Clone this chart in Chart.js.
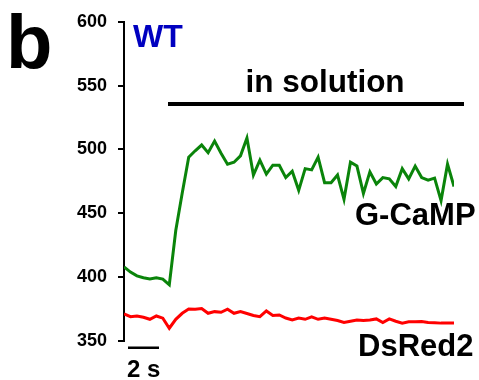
<!DOCTYPE html>
<html>
<head>
<meta charset="utf-8">
<script src="https://cdn.jsdelivr.net/npm/chart.js@4.4.1/dist/chart.umd.min.js"></script>
<style>
html,body{margin:0;padding:0;background:#fff;}
#wrap{width:479px;height:380px;}
</style>
</head>
<body>
<div id="wrap"><canvas id="c" width="479" height="380"></canvas></div>
<script>
// Time stamps (s)
const times = [0,0.4,0.8,1.2,1.6,2.0,2.4,2.8,3.2,3.6,4.0,4.4,4.8,5.2,5.6,6.0,6.4,6.8,7.2,7.6,8.0,8.4,8.8,9.2,9.6,10.0,10.4,10.8,11.2,11.6,12.0,12.4,12.8,13.2,13.6,14.0,14.4,14.8,15.2,15.6,16.0,16.4,16.8,17.2,17.6,18.0,18.4,18.8,19.2,19.6,20.0,20.4];
// G-CaMP fluorescence
const gcamp = [408,404,401,399.5,398.5,399.5,398.5,394,436.5,466,494,499,503.5,497.5,506.6,497,488.5,490,495,509,480,491.6,480.7,487.7,487.7,478,483,468,485,484,494,474,474,480,461,490,487,465.6,482.5,473,478,477,471,485,477,487,478,476,477.6,460,488.5,471];
// DsRed2 fluorescence
const dsred = [371.2,369,369.6,368.6,367,369.6,367.9,360,367,371.7,375,374.9,375.5,371.7,373,372.5,374.9,371.7,373,371.5,370,369,373.5,370,370.4,368,366.5,368,367,369,367,368,367,366,364.5,365.5,366.5,366,366.5,367.3,364.4,367.3,365.5,364,365,365,365.2,364.5,364.3,364,364,364];
const yTicks = [350,400,450,500,550,600];

const FONT = '"Liberation Sans", Arial, Helvetica, sans-serif';

const annot = {
  id: 'annot',
  afterDraw(chart) {
    const ctx = chart.ctx;
    ctx.save();
    ctx.fillStyle = '#000';
    ctx.textBaseline = 'alphabetic';
    ctx.textAlign = 'left';
    ctx.font = 'bold 76px ' + FONT;
    ctx.fillText('b', 6, 68);
    ctx.fillStyle = '#0000c0';
    ctx.font = 'bold 32px ' + FONT;
    ctx.fillText('WT', 133, 46.5);
    ctx.fillStyle = '#000';
    ctx.font = 'bold 31.5px ' + FONT;
    ctx.textAlign = 'center';
    ctx.fillText('in solution', 325, 91.5);
    ctx.fillRect(168, 102, 296, 4);
    ctx.font = 'bold 31px ' + FONT;
    ctx.textAlign = 'left';
    ctx.fillText('G-CaMP', 355, 224.5);
    ctx.fillText('DsRed2', 358, 355.5);
    ctx.fillRect(128, 346.5, 31, 2.5);
    ctx.font = 'bold 24px ' + FONT;
    ctx.fillText('2 s', 127, 377);
    ctx.restore();
  }
};

new Chart(document.getElementById('c'), {
  type: 'line',
  data: {
    datasets: [
      { label: 'G-CaMP', data: times.map((t, i) => ({x: t, y: gcamp[i]})), borderColor: '#0a840a', borderWidth: 3, pointRadius: 0, tension: 0, fill: false },
      { label: 'DsRed2', data: times.map((t, i) => ({x: t, y: dsred[i]})), borderColor: '#ff0000', borderWidth: 3, pointRadius: 0, tension: 0, fill: false }
    ]
  },
  options: {
    responsive: false,
    animation: false,
    devicePixelRatio: 1,
    layout: { padding: { left: 0, right: 25, top: 21, bottom: 39 } },
    plugins: { legend: { display: false }, tooltip: { enabled: false } },
    scales: {
      x: { type: 'linear', min: times[0], max: times[times.length - 1], display: false },
      y: {
        type: 'linear', min: 350, max: 600,
        afterFit(s) { s.width = 124; },
        afterBuildTicks(s) { s.ticks = yTicks.map(v => ({ value: v })); },
        border: { display: true, color: '#000', width: 2 },
        grid: { display: true, drawOnChartArea: false, drawTicks: true, tickLength: 6, color: '#000', lineWidth: 2 },
        ticks: { color: '#000', padding: 11, font: { family: FONT, size: 18, weight: 'bold' } }
      }
    }
  },
  plugins: [annot]
});
</script>
</body>
</html>
